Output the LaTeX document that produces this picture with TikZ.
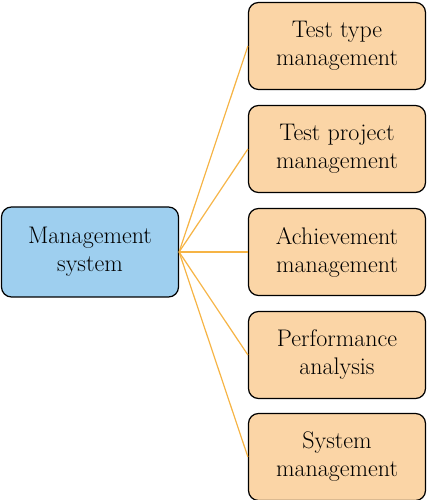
\documentclass[tikz,border=0pt]{standalone}
\usepackage{xcolor}
\usepackage{tikz}
\definecolor{sysblue}{HTML}{9ECFEF}
\definecolor{modpeach}{HTML}{FBD5A6}
\definecolor{linkorange}{HTML}{F6B445}

\begin{document}
\begin{tikzpicture}[x=1pt,y=1pt,
    box/.style={draw=black,line width=1.2pt,rounded corners=10pt,align=center,
        font=\fontsize{24}{28}\selectfont,inner sep=0pt},
    sysbox/.style={box,fill=sysblue,minimum width=177pt,minimum height=90pt},
    modbox/.style={box,fill=modpeach,minimum width=177pt,minimum height=87pt},
    link/.style={draw=linkorange,line width=1.2pt}]
                \useasboundingbox (0,0) rectangle (428,500);
                \node[sysbox] (S) at (90,248) {Management\\system};
                \node[modbox] (M1) at (337,454) {Test type\\management};
                \node[modbox] (M2) at (337,351) {Test project\\management};
                \node[modbox] (M3) at (337,248) {Achievement\\management};
                \node[modbox] (M4) at (337,145) {Performance\\analysis};
                \node[modbox] (M5) at (337,43) {System\\management};
                \foreach \m in {M1,M2,M3,M4,M5}
                    \draw[link] (S.east) -- (\m.west);
            \end{tikzpicture}
\end{document}
